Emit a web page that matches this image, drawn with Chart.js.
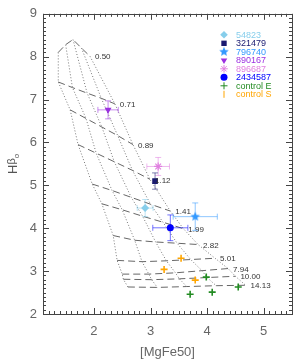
<!DOCTYPE html>
<html>
<head>
<meta charset="utf-8">
<script src="https://cdn.jsdelivr.net/npm/chart.js@4.4.1/dist/chart.umd.min.js"></script>
<style>
  html, body { margin: 0; padding: 0; background: #fff; }
</style>
</head>
<body>
<canvas id="chart" width="301" height="364"></canvas>
<script>
// Model grid: one row per age (Gyr), five metallicity nodes per row
const ages = ['0.50', '0.71', '0.89', '1.12', '1.41', '1.99', '2.82', '5.01', '7.94', '10.00', '14.13'];
const gridX = [
    [1.37, 1.50, 1.63, 1.78, 1.93],
    [1.37, 1.62, 1.88, 2.13, 2.37],
    [1.58, 1.86, 2.14, 2.42, 2.69],
    [1.72, 2.04, 2.36, 2.68, 2.99],
    [1.97, 2.32, 2.66, 3.00, 3.35],
    [2.14, 2.50, 2.86, 3.22, 3.58],
    [2.34, 2.72, 3.09, 3.47, 3.84],
    [2.41, 2.85, 3.28, 3.71, 4.14],
    [2.50, 2.97, 3.44, 3.91, 4.37],
    [2.52, 3.02, 3.51, 4.00, 4.50],
    [2.60, 3.12, 3.64, 4.16, 4.68]
];
const gridY = [
    [8.10, 8.28, 8.40, 8.20, 8.01],
    [7.41, 7.28, 7.15, 7.03, 6.90],
    [6.76, 6.56, 6.36, 6.16, 5.95],
    [5.95, 5.75, 5.55, 5.35, 5.14],
    [5.03, 4.88, 4.72, 4.56, 4.40],
    [4.57, 4.43, 4.28, 4.14, 3.99],
    [3.83, 3.72, 3.68, 3.65, 3.62],
    [3.25, 3.22, 3.24, 3.27, 3.30],
    [2.93, 2.93, 2.96, 3.01, 3.06],
    [2.81, 2.80, 2.82, 2.85, 2.88],
    [2.63, 2.62, 2.64, 2.66, 2.67]
];

// Galaxies
const galNames = ['54823', '321479', '796740', '890167', '896687', '2434587'];
const galX = [2.905, 3.08, 3.79, 2.25, 3.135, 3.35];
const galY = [4.47, 5.10, 4.27, 6.76, 5.44, 4.01];
const galXerr = [0.14, 0.03, 0.39, 0.18, 0.20, 0.31];
const galYerr = [0.20, 0.19, 0.32, 0.21, 0.21, 0.30];
const galColors = ['#87CEEB', '#191970', '#3399FF', '#9B30E0', '#E080E0', '#0000FF'];

// Control samples
const ctrlEX = [3.985, 3.70, 4.09, 4.55];
const ctrlEY = [2.86, 2.46, 2.51, 2.63];
const ctrlSX = [3.54, 3.24, 3.79];
const ctrlSY = [3.30, 3.04, 2.79];
const ctrlColors = ['#228B22', '#FFA500'];

const xTicks = [2, 3, 4, 5];
const yTicks = [2, 3, 4, 5, 6, 7, 8, 9];

const FONT = "'Liberation Sans', 'DejaVu Sans', sans-serif";

function makeStar(r, color) {
    const c = document.createElement('canvas');
    c.width = c.height = 2 * r + 2;
    const g = c.getContext('2d');
    g.fillStyle = color;
    g.beginPath();
    for (let i = 0; i < 10; i++) {
        const rr = i % 2 ? r * 0.45 : r;
        const a = -Math.PI / 2 + i * Math.PI / 5;
        g.lineTo(r + 1 + rr * Math.cos(a), r + 1 + rr * Math.sin(a));
    }
    g.closePath();
    g.fill();
    return c;
}

const starImg = makeStar(5, galColors[2]);

const galStyles = [
    { pointStyle: 'rectRot', radius: 4, rotation: 0 },
    { pointStyle: 'rect', radius: 4, rotation: 0 },
    { pointStyle: starImg, radius: 5, rotation: 0 },
    { pointStyle: 'triangle', radius: 4, rotation: 180 },
    { pointStyle: 'star', radius: 4, rotation: 0 },
    { pointStyle: 'circle', radius: 3.5, rotation: 0 }
];

const datasets = [];

// Galaxy points
galNames.forEach((name, i) => {
    datasets.push({
        label: name,
        data: [{ x: galX[i], y: galY[i] }],
        errX: [galXerr[i]],
        errY: [galYerr[i]],
        pointStyle: galStyles[i].pointStyle,
        pointRadius: galStyles[i].radius,
        rotation: galStyles[i].rotation,
        backgroundColor: galColors[i],
        borderColor: galColors[i],
        borderWidth: galStyles[i].pointStyle === 'star' ? 1.2 : 0,
        order: 0
    });
});

// Control samples
datasets.push({
    label: 'control E',
    data: ctrlEX.map((x, i) => ({ x: x, y: ctrlEY[i] })),
    pointStyle: 'cross',
    pointRadius: 3.5,
    borderColor: ctrlColors[0],
    backgroundColor: ctrlColors[0],
    borderWidth: 1.6,
    order: 0
});
datasets.push({
    label: 'control S',
    data: ctrlSX.map((x, i) => ({ x: x, y: ctrlSY[i] })),
    pointStyle: 'cross',
    pointRadius: 3.5,
    borderColor: ctrlColors[1],
    backgroundColor: ctrlColors[1],
    borderWidth: 1.6,
    order: 0
});

// Age lines (dashed)
ages.forEach((age, i) => {
    datasets.push({
        label: 'age ' + age,
        data: gridX[i].map((x, j) => ({ x: x, y: gridY[i][j] })),
        showLine: true,
        borderColor: '#666',
        borderWidth: 1,
        borderDash: [7, 4],
        pointRadius: 0,
        order: 2
    });
});

// Metallicity lines (dotted)
for (let j = 0; j < 5; j++) {
    datasets.push({
        label: 'Z ' + j,
        data: ages.map((_, i) => ({ x: gridX[i][j], y: gridY[i][j] })),
        showLine: true,
        borderColor: '#777',
        borderWidth: 1,
        borderDash: [1, 2],
        pointRadius: 0,
        order: 2
    });
}

// Error bars under each galaxy marker
const errorBars = {
    id: 'errorBars',
    beforeDatasetDraw(chart, args) {
        const ds = chart.data.datasets[args.index];
        if (!ds.errX) return;
        const { ctx, scales: { x, y } } = chart;
        ctx.save();
        ctx.strokeStyle = ds.borderColor;
        ctx.globalAlpha = 0.55;
        ctx.lineWidth = 1;
        ds.data.forEach((p, k) => {
            const px = x.getPixelForValue(p.x);
            const py = y.getPixelForValue(p.y);
            const x0 = x.getPixelForValue(p.x - ds.errX[k]);
            const x1 = x.getPixelForValue(p.x + ds.errX[k]);
            const y0 = y.getPixelForValue(p.y - ds.errY[k]);
            const y1 = y.getPixelForValue(p.y + ds.errY[k]);
            ctx.beginPath();
            ctx.moveTo(x0, py); ctx.lineTo(x1, py);
            ctx.moveTo(px, y0); ctx.lineTo(px, y1);
            if (x1 - x0 > 4) {
                ctx.moveTo(x0, py - 3); ctx.lineTo(x0, py + 3);
                ctx.moveTo(x1, py - 3); ctx.lineTo(x1, py + 3);
            }
            ctx.moveTo(px - 3, y0); ctx.lineTo(px + 3, y0);
            ctx.moveTo(px - 3, y1); ctx.lineTo(px + 3, y1);
            ctx.stroke();
        });
        ctx.restore();
    }
};

// Frame, inward ticks, age labels, legend, y title
const decorations = {
    id: 'decorations',
    afterDatasetsDraw(chart) {
        const { ctx, scales: { x, y } } = chart;
        ctx.save();
        ctx.fillStyle = '#333';
        ctx.font = '8px ' + FONT;
        ctx.textAlign = 'left';
        ctx.textBaseline = 'middle';
        ages.forEach((age, i) => {
            const px = x.getPixelForValue(gridX[i][4]);
            const py = y.getPixelForValue(gridY[i][4]);
            ctx.fillText(age, px + 5, py + 1);
        });
        ctx.restore();
    },
    afterDraw(chart) {
        const { ctx, chartArea: a, scales: { x, y } } = chart;
        ctx.save();
        ctx.strokeStyle = '#444';
        ctx.lineWidth = 1;
        ctx.strokeRect(Math.round(a.left) + 0.5, Math.round(a.top) + 0.5,
            Math.round(a.width), Math.round(a.height));

        ctx.beginPath();
        for (let k = 11; k <= 55; k++) {
            const px = Math.round(x.getPixelForValue(k / 10)) + 0.5;
            const len = k % 10 === 0 ? 6 : 3;
            ctx.moveTo(px, a.bottom); ctx.lineTo(px, a.bottom - len);
            ctx.moveTo(px, a.top); ctx.lineTo(px, a.top + len);
        }
        for (let k = 20; k <= 90; k++) {
            const py = Math.round(y.getPixelForValue(k / 10)) + 0.5;
            const len = k % 10 === 0 ? 6 : 3;
            ctx.moveTo(a.left, py); ctx.lineTo(a.left + len, py);
            ctx.moveTo(a.right, py); ctx.lineTo(a.right - len, py);
        }
        ctx.stroke();

        // legend
        const items = galNames.map((n, i) => ({ text: n, color: galColors[i], style: galStyles[i] }));
        items.push({ text: 'control E', color: ctrlColors[0], style: { pointStyle: 'cross', radius: 3.5, rotation: 0 }, stroke: 1.6 });
        items.push({ text: 'control S', color: ctrlColors[1], style: { pointStyle: 'line', radius: 3.5, rotation: 90 }, stroke: 1.2 });
        const mx = a.right - 68;
        const tx = a.right - 56;
        items.forEach((it, i) => {
            const py = a.top + 21 + i * 8.5;
            ctx.fillStyle = it.color;
            ctx.strokeStyle = it.color;
            const st = it.style;
            const r = st.pointStyle === starImg ? 5 : Math.min(st.radius, 3.8);
            Chart.helpers.drawPoint(ctx, {
                pointStyle: st.pointStyle,
                radius: r,
                rotation: st.rotation,
                borderWidth: it.stroke || (st.pointStyle === 'star' ? 1.2 : 0)
            }, mx, py);
            ctx.font = '9px ' + FONT;
            ctx.textAlign = 'left';
            ctx.textBaseline = 'middle';
            ctx.fillText(it.text, tx, py + 0.5);
        });

        // y axis title: H beta with subscript o
        ctx.translate(13, (a.top + a.bottom) / 2);
        ctx.rotate(-Math.PI / 2);
        ctx.fillStyle = '#555';
        ctx.textBaseline = 'middle';
        ctx.textAlign = 'left';
        ctx.font = '13px ' + FONT;
        const wH = ctx.measureText('H').width;
        ctx.font = '11px ' + FONT;
        const wB = ctx.measureText('β').width;
        ctx.font = '8px ' + FONT;
        const wO = ctx.measureText('o').width;
        const start = -(wH + wB + wO) / 2;
        ctx.font = '13px ' + FONT;
        ctx.fillText('H', start, 0);
        ctx.font = '11px ' + FONT;
        ctx.fillText('β', start + wH, -1);
        ctx.font = '8px ' + FONT;
        ctx.fillText('o', start + wH + wB, 4);
        ctx.restore();
    }
};

new Chart(document.getElementById('chart'), {
    type: 'scatter',
    data: { datasets: datasets },
    options: {
        responsive: false,
        animation: false,
        devicePixelRatio: 1,
        layout: { padding: { top: 11, right: 9, left: 0, bottom: 0 } },
        plugins: {
            legend: { display: false },
            tooltip: { enabled: false }
        },
        scales: {
            x: {
                type: 'linear',
                min: 1.1,
                max: 5.5,
                afterBuildTicks: s => { s.ticks = xTicks.map(v => ({ value: v })); },
                afterFit: s => { s.height = 50; },
                grid: { display: false, drawTicks: false },
                border: { display: false },
                ticks: { color: '#666', font: { size: 13, family: FONT }, padding: 10, maxRotation: 0 },
                title: { display: true, text: '[MgFe50]', color: '#666', font: { size: 13, family: FONT }, padding: { top: 0, bottom: 4 } }
            },
            y: {
                type: 'linear',
                min: 2,
                max: 9,
                afterBuildTicks: s => { s.ticks = yTicks.map(v => ({ value: v })); },
                afterFit: s => { s.width = 43; },
                grid: { display: false, drawTicks: false },
                border: { display: false },
                ticks: { color: '#666', font: { size: 13, family: FONT }, padding: 6 }
            }
        }
    },
    plugins: [errorBars, decorations]
});
</script>
</body>
</html>
